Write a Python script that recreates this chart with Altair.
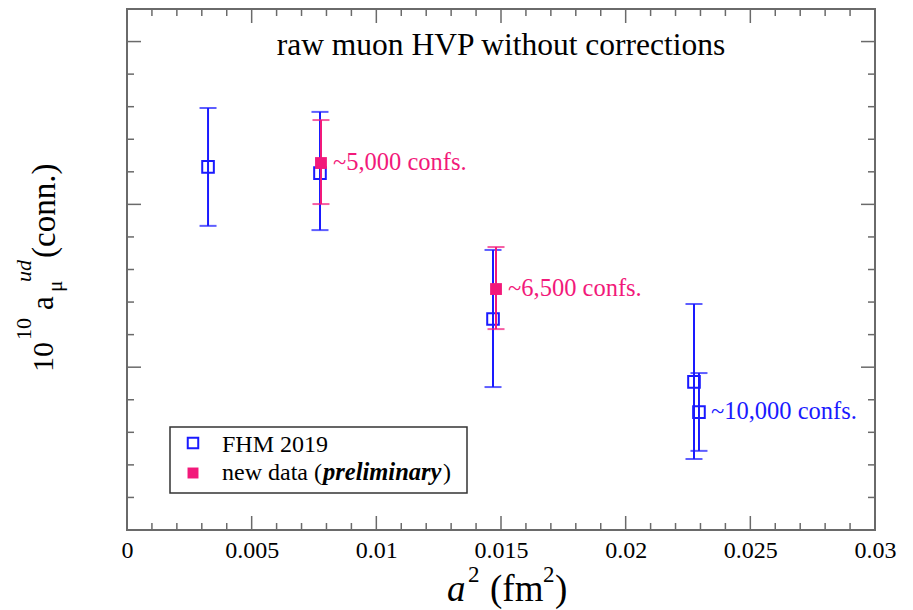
import altair as alt
import pandas as pd

# ---- data (arbitrary units on the unlabeled y axis) ----
fhm_x = [0.00325, 0.00774, 0.01468, 0.02274, 0.02294]
fhm_y = [11.15, 10.96, 6.48, 4.55, 3.62]
fhm_lo = [9.34, 9.21, 4.39, 2.18, 2.43]
fhm_hi = [12.96, 12.84, 8.60, 6.94, 4.82]

new_x = [0.00778, 0.0148]
new_y = [11.27, 7.40]
new_lo = [10.01, 6.17]
new_hi = [12.59, 8.69]

note_x = [0.00778, 0.0148, 0.02294]
note_y = [11.27, 7.40, 3.62]
note_text = ["~5,000 confs.", "~6,500 confs.", "~10,000 confs."]
note_group = ["new", "new", "fhm"]

x_major = [0.0, 0.005, 0.01, 0.015, 0.02, 0.025, 0.03]
x_minor = [0.001, 0.002, 0.003, 0.004, 0.006, 0.007, 0.008, 0.009,
           0.011, 0.012, 0.013, 0.014, 0.016, 0.017, 0.018, 0.019,
           0.021, 0.022, 0.023, 0.024, 0.026, 0.027, 0.028, 0.029]
y_major = [5, 10, 15]
y_minor = [1, 2, 3, 4, 6, 7, 8, 9, 11, 12, 13, 14]

BLUE = "#1a1aff"
PINK = "#f2197a"
GRAY = "#6a6a6a"
FONT = "Liberation Serif"
W, H = 748, 521

xs = alt.Scale(domain=[0, 0.03], nice=False, zero=False)
ys = alt.Scale(domain=[0, 16], nice=False, zero=False)
xaxis = alt.Axis(values=x_major, format="~g", domain=False, ticks=False, grid=False,
                 labelFont=FONT, labelFontSize=24, labelColor="black",
                 labelPadding=8, labelFlush=False, labelOverlap=False, title=None)


def X(f):
    return alt.X(f, type="quantitative", scale=xs, axis=xaxis)


def Y(f):
    return alt.Y(f, type="quantitative", scale=ys, axis=None)


fhm = pd.DataFrame({"x": fhm_x, "y": fhm_y, "lo": fhm_lo, "hi": fhm_hi})
new = pd.DataFrame({"x": new_x, "y": new_y, "lo": new_lo, "hi": new_hi})
notes = pd.DataFrame({"x": note_x, "y": note_y, "t": note_text, "g": note_group})


def series(df, color, filled):
    b = alt.Chart(df)
    bar = b.mark_rule(color=color, strokeWidth=2).encode(x=X("x"), y=Y("lo"), y2="hi")
    c1 = b.mark_tick(color=color, orient="horizontal", size=17, thickness=2).encode(x=X("x"), y=Y("lo"))
    c2 = b.mark_tick(color=color, orient="horizontal", size=17, thickness=2).encode(x=X("x"), y=Y("hi"))
    if filled:
        pt = b.mark_point(shape="square", filled=True, color=color, size=140, opacity=1).encode(x=X("x"), y=Y("y"))
    else:
        pt = b.mark_point(shape="square", filled=False, color=color, size=135, strokeWidth=2,
                          opacity=1).encode(x=X("x"), y=Y("y"))
    return [bar, c1, c2, pt]


def xticks(vals, length):
    d = alt.Chart(pd.DataFrame({"t": vals}))
    bot = d.mark_rule(color=GRAY, strokeWidth=1.5).encode(x=X("t"), y=alt.value(H), y2=alt.value(H - length))
    top = d.mark_rule(color=GRAY, strokeWidth=1.5).encode(x=X("t"), y=alt.value(0), y2=alt.value(length))
    return [bot, top]


def yticks(vals, length):
    d = alt.Chart(pd.DataFrame({"t": vals}))
    lft = d.mark_rule(color=GRAY, strokeWidth=1.5).encode(y=Y("t"), x=alt.value(0), x2=alt.value(length))
    rgt = d.mark_rule(color=GRAY, strokeWidth=1.5).encode(y=Y("t"), x=alt.value(W), x2=alt.value(W - length))
    return [lft, rgt]


def txt(s, x, y, size, color="black", style="normal", weight="normal", angle=0, align="left"):
    kw = dict(text=s, font=FONT, fontSize=size, color=color, fontStyle=style,
              fontWeight=weight, align=align, baseline="alphabetic")
    if angle:
        kw["angle"] = angle
    return alt.Chart(pd.DataFrame({"d": [0]})).mark_text(**kw).encode(x=alt.value(x), y=alt.value(y))


layers = []
layers += xticks(x_minor, 7) + xticks(x_major, 14)
layers += yticks(y_minor, 7) + yticks(y_major, 14)
layers += series(fhm, BLUE, False)
layers += series(new, PINK, True)

note_layer = alt.Chart(notes).mark_text(font=FONT, fontSize=24.5, align="left", baseline="middle", dx=12).encode(
    x=X("x"), y=Y("y"), text="t:N",
    color=alt.Color("g:N", scale=alt.Scale(domain=["new", "fhm"], range=[PINK, BLUE]), legend=None))
layers.append(note_layer)

# title inside the frame
layers.append(txt("raw muon HVP without corrections", 374, 46, 31.5, align="center"))

# legend box
legend_box = alt.Chart(pd.DataFrame({"d": [0]})).mark_rect(
    fill="white", fillOpacity=0, stroke="#333333", strokeWidth=1.5).encode(
    x=alt.value(43), x2=alt.value(340), y=alt.value(418), y2=alt.value(484))
layers.append(legend_box)
layers.append(alt.Chart(pd.DataFrame({"d": [0]})).mark_point(
    shape="square", filled=False, color=BLUE, size=110, strokeWidth=2, opacity=1).encode(
    x=alt.value(66), y=alt.value(434)))
layers.append(alt.Chart(pd.DataFrame({"d": [0]})).mark_point(
    shape="square", filled=True, color=PINK, size=120, opacity=1).encode(
    x=alt.value(66), y=alt.value(464)))
layers.append(txt("FHM 2019", 95, 443, 24))
layers.append(txt("new data (", 95, 471, 24))
layers.append(txt("preliminary", 196, 471, 24.5, style="italic", weight="bold"))
layers.append(txt(")", 316, 471, 24))

# x axis title: a^2 (fm^2)
layers.append(txt("a", 320, 592, 37, style="italic"))
layers.append(txt("2", 341, 573, 23))
layers.append(txt("(fm", 363, 592, 37))
layers.append(txt("2", 416, 573, 23))
layers.append(txt(")", 428, 592, 37))

# y axis title: 10^10 a_mu^ud (conn.)
layers.append(txt("10", -74, 363, 30, angle=270))
layers.append(txt("10", -96, 331, 22, angle=270))
layers.append(txt("a", -74, 301, 31, angle=270))
layers.append(txt("μ", -65, 283, 21, angle=270))
layers.append(txt("ud", -96, 273, 22, angle=270, style="italic"))
layers.append(txt("(conn.)", -72, 249, 33, angle=270))

chart = alt.layer(*layers).properties(
    width=W, height=H,
    autosize=alt.AutoSizeParams(type="none"),
    padding={"left": 119, "top": 1, "right": 25, "bottom": 80},
    background="white",
).configure_view(stroke=GRAY, strokeWidth=2)

chart.save("out.html", embed_options={"renderer": "svg", "actions": False})
